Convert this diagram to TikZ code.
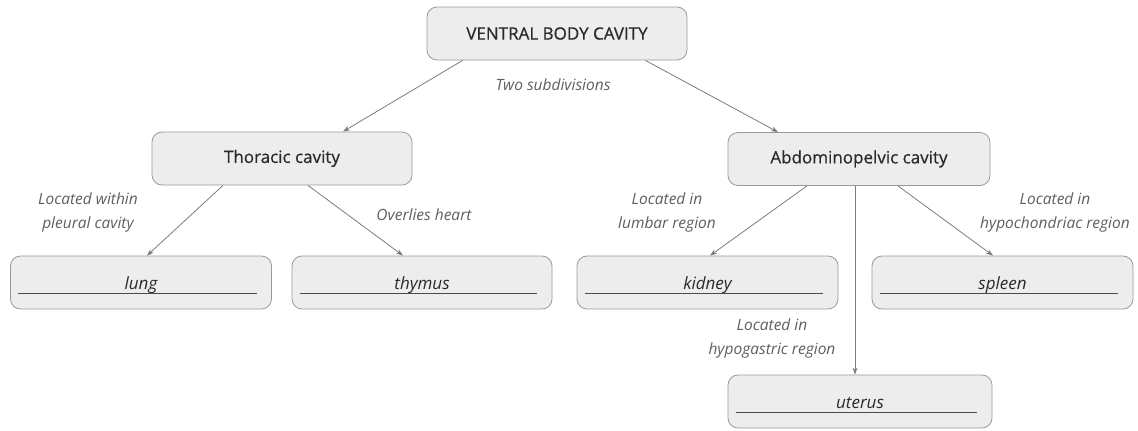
\documentclass[tikz,border=0pt]{standalone}
\usepackage{fontspec}
\setmainfont{Open Sans}
\newfontfamily\cavityfont[FakeBold=0.6]{Open Sans}
\usetikzlibrary{arrows.meta,positioning}
\definecolor{CavFill}{HTML}{EDEDED}
\definecolor{CavLine}{HTML}{999999}
\definecolor{CavLink}{HTML}{7C7C7C}
\definecolor{CavNote}{HTML}{5E5E5E}
\definecolor{CavText}{HTML}{2A2A2A}
\tikzset{
  cavitybox/.style={draw=CavLine,fill=CavFill,rounded corners=3.5mm,line width=0.8pt,align=center,minimum width=260pt,minimum height=53pt,inner sep=4pt,font=\cavityfont\fontsize{17}{19}\selectfont,text=CavText},
  organbox/.style={cavitybox,minimum width=261pt,text height=17pt,text depth=4pt,font=\itshape\fontsize{17}{19}\selectfont},
  linkarrow/.style={-{Stealth[length=7pt,width=5pt]},line width=0.8pt,draw=CavLink},
  notetext/.style={align=center,font=\itshape\fontsize{15.5}{24.5}\selectfont,text=CavNote,inner sep=0pt},
  blankline/.style={line width=0.9pt,draw=CavText!85}
}
\begin{document}
\begin{tikzpicture}[x=1pt,y=-1pt]
\useasboundingbox (0,0) rectangle (1138,431);
% cavities
\node[cavitybox] (ventral) at (557,33.5) {VENTRAL BODY CAVITY};
\node[cavitybox] (thoracic) at (282,158.5) {Thoracic cavity};
\node[cavitybox,minimum width=262pt] (abdomino) at (859,159) {Abdominopelvic cavity};
% organs
\node[organbox] (lung) at (141,282.5) {lung};
\node[organbox,minimum width=260pt] (thymus) at (422,282.5) {thymus};
\node[organbox] (kidney) at (707.5,282.5) {kidney};
\node[organbox] (spleen) at (1002.5,282.5) {spleen};
\node[organbox,minimum width=264pt] (uterus) at (860,401.5) {uterus};
\foreach \organ in {lung,thymus,kidney,spleen,uterus}
  \draw[blankline] ([xshift=8pt,yshift=15.5pt]\organ.south west) -- ([xshift=-15pt,yshift=15.5pt]\organ.south east);
% links
\draw[linkarrow] ([xshift=36pt]ventral.south west) -- ([xshift=61pt]thoracic.north);
\draw[linkarrow] ([xshift=-42pt]ventral.south east) -- ([xshift=-81pt]abdomino.north);
\draw[linkarrow] ([xshift=-59pt]thoracic.south) -- ([xshift=6pt]lung.north);
\draw[linkarrow] ([xshift=26pt]thoracic.south) -- ([xshift=-19pt]thymus.north);
\draw[linkarrow] ([xshift=-52pt]abdomino.south) -- ([xshift=2.5pt]kidney.north);
\draw[linkarrow] ([xshift=39pt]abdomino.south) -- ([xshift=-9.5pt]spleen.north);
\draw[linkarrow] ([xshift=-4pt]abdomino.south) -- ([xshift=-4pt]abdomino.south |- uterus.north);
% link notes
\node[notetext] (twosub) at (553,85) {Two subdivisions};
\node[notetext] (pleural) at (88,212.5) {Located within\\pleural cavity};
\node[notetext] (heart) at (424,215) {Overlies heart};
\node[notetext] (lumbar) at (667,212.5) {Located in\\lumbar region};
\node[notetext] (hypochon) at (1055,212.5) {Located in\\hypochondriac region};
\node[notetext] (hypogas) at (772,338.5) {Located in\\hypogastric region};
\end{tikzpicture}
\end{document}
